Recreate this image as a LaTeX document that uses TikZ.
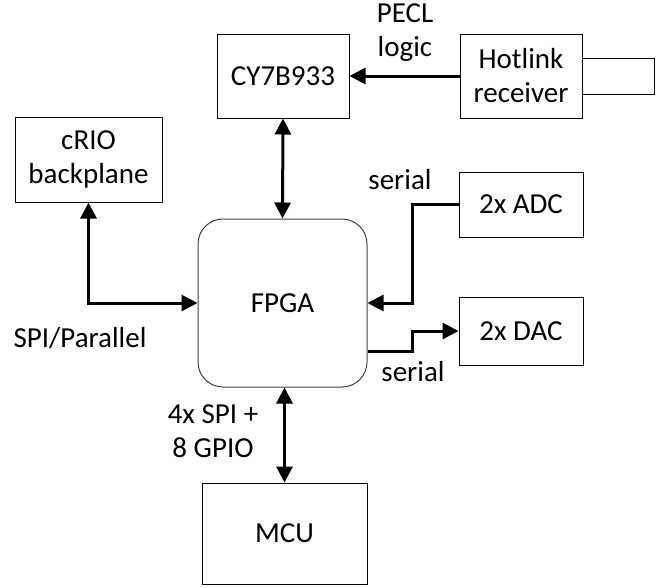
\documentclass[tikz,border=0pt]{standalone}
\usepackage{fontspec}
\setmainfont{Carlito}
\usepackage{tikz}
\usetikzlibrary{arrows.meta, positioning, calc}

\begin{document}
\begin{tikzpicture}[
    x=1pt, y=-1pt,
    font=\fontsize{29}{34}\selectfont,
    block/.style={rectangle, draw, line width=1pt, align=center, inner sep=0pt},
    link/.style={line width=3pt, -{Triangle[length=16pt,width=16pt]}},
    duplex/.style={line width=3pt, {Triangle[length=16pt,width=16pt]}-{Triangle[length=16pt,width=16pt]}},
    tag/.style={align=center, inner sep=0pt},
]
    \useasboundingbox (0,0) rectangle (661,587);
    % blocks
    \node[block, minimum width=132pt, minimum height=84pt] (cy) at (283,76) {CY7B933};
    \node[block, minimum width=122pt, minimum height=84pt] (hot) at (521,76) {Hotlink\\receiver};
    \node[block, minimum width=72pt, minimum height=36pt] (plug) at (618,76) {};
    \node[block, minimum width=147pt, minimum height=85pt] (crio) at (88.5,159.5) {cRIO\\backplane};
    \node[block, draw=black!75, rounded corners=25pt, minimum width=169pt, minimum height=168pt] (fpga) at (282.5,303) {FPGA};
    \node[block, minimum width=124pt, minimum height=65pt] (adc) at (521,204.5) {2x ADC};
    \node[block, minimum width=124pt, minimum height=68pt] (dac) at (521,331) {2x DAC};
    \node[block, minimum width=165pt, minimum height=101pt] (mcu) at (284.5,533.5) {MCU};

    % connections
    \draw[link] (hot.west) -- (cy.east);
    \draw[duplex] (cy.south) -- (fpga.north);
    \draw[duplex] (crio.south) |- (fpga.west);
    \draw[link] (adc.west) -- ++(-46,0) |- (fpga.east);
    \draw[link] ([yshift=-48pt]fpga.east) -| ($(dac.west)+(-46,0)$) -- (dac.west);
    \draw[duplex] (fpga.south -| mcu.north) -- (mcu.north);

    % labels
    \node[tag] (pecl) at (405,33) {PECL\\logic};
    \node[tag] (adcser) at (400,180) {serial};
    \node[tag] (dacser) at (413,372) {serial};
    \node[tag] (spipar) at (80,338) {SPI/Parallel};
    \node[tag] (mcubus) at (213,431) {4x SPI +\\8 GPIO};
\end{tikzpicture}
\end{document}
